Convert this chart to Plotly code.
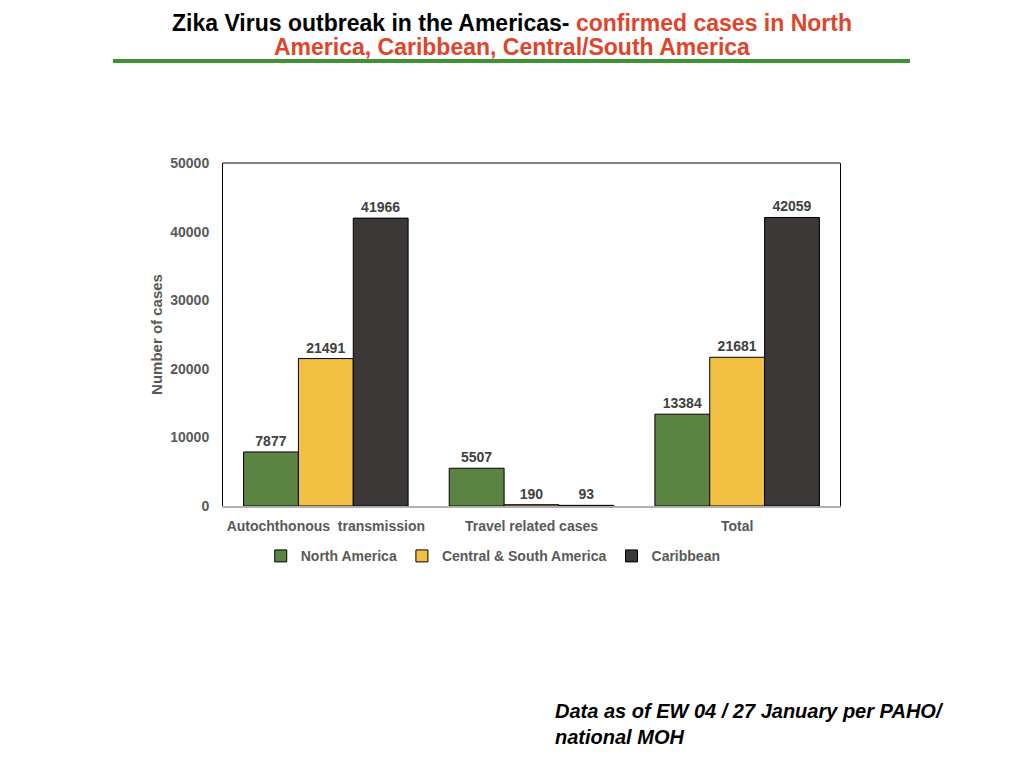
import plotly.graph_objects as go

categories = ["Autochthonous  transmission", "Travel related cases", "Total"]
north_america = [7877, 5507, 13384]
central_south = [21491, 190, 21681]
caribbean = [41966, 93, 42059]
series_names = ["North America", "Central & South America", "Caribbean"]
series_colors = ["#5b8442", "#f2c143", "#3b3837"]

# page sits 8px in from the window corner (body margin), so work in page coords
L, T, PW, PH = 215, 155, 617, 343


def px_x(x):
    return (x - 8 - L) / PW


def px_y(y):
    return 1 - (y - 8 - T) / PH


LABEL_FONT = dict(family="Liberation Sans", size=14, color="#404040")

fig = go.Figure()
for name, vals, col in zip(series_names, [north_america, central_south, caribbean], series_colors):
    fig.add_trace(go.Bar(
        x=categories, y=vals, name=name,
        marker=dict(color=col, line=dict(color="black", width=1)),
        text=[f"<b>{v}</b>" for v in vals], textposition="outside",
        textfont=LABEL_FONT, cliponaxis=False))

fig.update_layout(
    width=1024, height=768,
    paper_bgcolor="white", plot_bgcolor="white",
    margin=dict(l=L, r=1024 - L - PW, t=T, b=768 - T - PH, autoexpand=False),
    barmode="group", bargap=0.2, bargroupgap=0,
    font=dict(family="Liberation Sans", size=14, color="#595959"),
    showlegend=True,
    legend=dict(orientation="h", x=0.438, xanchor="center", y=-0.1, yanchor="top",
                font=dict(size=14, color="#595959", weight="bold"),
                itemwidth=30, traceorder="normal"),
    xaxis=dict(showline=True, linecolor="#b0b0b0", linewidth=1.5, ticks="",
               ticklabelstandoff=6,
               tickfont=dict(size=14, color="#595959", weight="bold")),
    yaxis=dict(range=[0, 50000], dtick=10000, showgrid=False, zeroline=False,
               showline=True, linecolor="black", linewidth=1, mirror=True,
               ticks="", tickformat="d", ticklabelstandoff=10,
               tickfont=dict(size=14, color="#595959", weight="bold"),
               title=dict(text="<b>Number of cases</b>", font=dict(size=15, color="#595959"),
                          standoff=4)),
)

# top border of the plot box
fig.add_shape(type="line", xref="paper", yref="paper", x0=0, x1=1, y0=1, y1=1,
              line=dict(color="black", width=1))

# slide title (two lines) and rule
RED = "#e0442a"
fig.add_annotation(
    xref="paper", yref="paper", x=px_x(512), y=px_y(23), yanchor="middle", showarrow=False,
    borderpad=0,
    text=f"<b>Zika Virus outbreak in the Americas- <span style='color:{RED}'>confirmed cases in North</span></b>",
    font=dict(family="Liberation Sans", size=23, color="black"))
fig.add_annotation(
    xref="paper", yref="paper", x=px_x(512), y=px_y(47), yanchor="middle", showarrow=False,
    borderpad=0,
    text="<b>America, Caribbean, Central/South America</b>",
    font=dict(family="Liberation Sans", size=23, color=RED))
fig.add_shape(type="line", xref="paper", yref="paper",
              x0=px_x(113), x1=px_x(910), y0=px_y(61), y1=px_y(61),
              line=dict(color="#3d9331", width=4))

# footnote
fig.add_annotation(
    xref="paper", yref="paper", x=px_x(553), y=px_y(724),
    xanchor="left", yanchor="middle", showarrow=False, align="left",
    text="<b><i>Data as of EW 04 / 27 January per PAHO/<br>national MOH</i></b>",
    font=dict(family="Liberation Sans", size=20, color="black"))

fig.write_html("out.html")
